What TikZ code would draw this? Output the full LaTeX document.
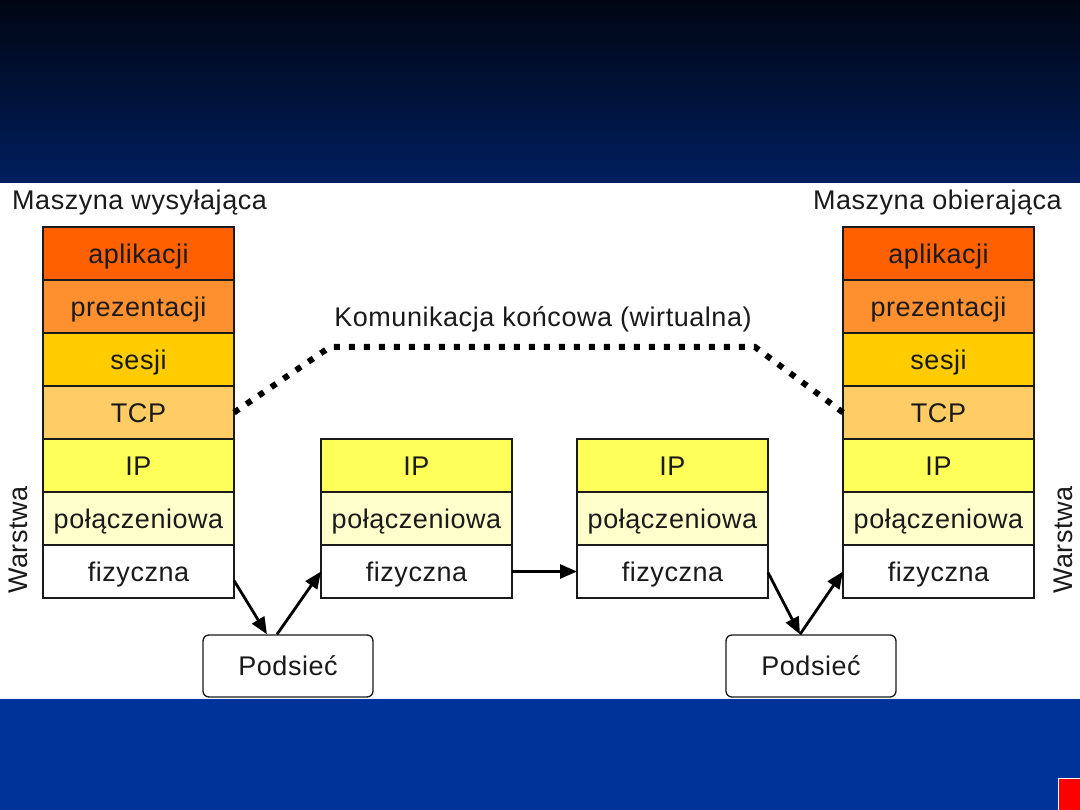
\documentclass[tikz,border=0pt]{standalone}
\usepackage{fontspec}
\setmainfont{Liberation Sans}[LetterSpace=2]
\usetikzlibrary{arrows.meta,calc}
\definecolor{cApp}{HTML}{FF6000}
\definecolor{cPre}{HTML}{FF9030}
\definecolor{cSes}{HTML}{FFCC00}
\definecolor{cTcp}{HTML}{FFCC66}
\definecolor{cIp}{HTML}{FFFF5A}
\definecolor{cLnk}{HTML}{FFFFCC}
\definecolor{cTop}{HTML}{000612}
\definecolor{cTopB}{HTML}{001E5E}
\definecolor{cBot}{HTML}{003399}
\definecolor{ink}{HTML}{1A1A1A}
\tikzset{
  layer/.style={draw=ink, line width=1.6pt, minimum width=191pt, minimum height=53pt,
    inner sep=0pt, outer sep=0pt, anchor=north west, text=ink,
    text height=19.5pt, text depth=0pt, font=\fontsize{27}{30}\selectfont},
  net/.style={draw=ink, line width=1.3pt, rounded corners=6pt, minimum width=170pt,
    minimum height=62pt, inner sep=0pt, text=ink,
    text height=19.5pt, text depth=0pt, font=\fontsize{27}{30}\selectfont},
  lbl/.style={inner sep=0pt, text=ink, font=\fontsize{27}{30}\selectfont},
  conn/.style={draw=black, line width=2.8pt, -{Triangle[length=17pt,width=14pt]}},
  virt/.style={draw=black, line width=6pt, dash pattern=on 6pt off 9pt}
}
\begin{document}
\begin{tikzpicture}[x=1pt,y=-1pt]
\useasboundingbox (0,0) rectangle (1080,810);
% background
\shade[top color=cTop, bottom color=cTopB] (0,0) rectangle (1080,183);
\fill[white] (0,183) rectangle (1080,699);
\fill[cBot] (0,699) rectangle (1080,810);
\fill[white] (1058,778) rectangle (1080,810);
\fill[red] (1059,779) rectangle (1080,810);

% sending machine
\node[layer, fill=cApp] (L1) at (43,227) {aplikacji};
\node[layer, fill=cPre] (L2) at (43,280) {prezentacji};
\node[layer, fill=cSes] (L3) at (43,333) {sesji};
\node[layer, fill=cTcp] (L4) at (43,386) {TCP};
\node[layer, fill=cIp]  (L5) at (43,439) {IP};
\node[layer, fill=cLnk] (L6) at (43,492) {połączeniowa};
\node[layer, fill=white] (L7) at (43,545) {fizyczna};

% router 1
\node[layer, fill=cIp]  (A5) at (321,439) {IP};
\node[layer, fill=cLnk] (A6) at (321,492) {połączeniowa};
\node[layer, fill=white] (A7) at (321,545) {fizyczna};

% router 2
\node[layer, fill=cIp]  (B5) at (577,439) {IP};
\node[layer, fill=cLnk] (B6) at (577,492) {połączeniowa};
\node[layer, fill=white] (B7) at (577,545) {fizyczna};

% receiving machine
\node[layer, fill=cApp] (R1) at (843,227) {aplikacji};
\node[layer, fill=cPre] (R2) at (843,280) {prezentacji};
\node[layer, fill=cSes] (R3) at (843,333) {sesji};
\node[layer, fill=cTcp] (R4) at (843,386) {TCP};
\node[layer, fill=cIp]  (R5) at (843,439) {IP};
\node[layer, fill=cLnk] (R6) at (843,492) {połączeniowa};
\node[layer, fill=white] (R7) at (843,545) {fizyczna};

% subnets
\node[net] (P1) at (288,666) {Podsieć};
\node[net] (P2) at (811,666) {Podsieć};

% labels
\node[lbl, anchor=base west] (tS) at (12,210) {Maszyna wysyłająca};
\node[lbl, anchor=base east] (tR) at (1062,210) {Maszyna obierająca};
\node[lbl, anchor=base] (tK) at (543,327) {Komunikacja końcowa (wirtualna)};
\node[lbl, rotate=90] (wL) at (18,540) {Warstwa};
\node[lbl, rotate=90] (wR) at (1063,540) {Warstwa};

% virtual communication
\coordinate (k1) at (330,347);
\coordinate (k2) at (755,347);
\draw[virt] (L4.east) -- (k1) -- (k2) -- (R4.west);

% physical path
\draw[conn] ([yshift=-9pt]L7.east) -- ([xshift=-21pt]P1.north);
\draw[conn] ([xshift=-11pt]P1.north) -- (A7.west);
\draw[conn] (A7.east) -- (B7.west);
\draw[conn] ([yshift=-1pt]B7.east) -- ([xshift=-11pt]P2.north);
\draw[conn] ([xshift=-11pt]P2.north) -- (R7.west);
\end{tikzpicture}
\end{document}
